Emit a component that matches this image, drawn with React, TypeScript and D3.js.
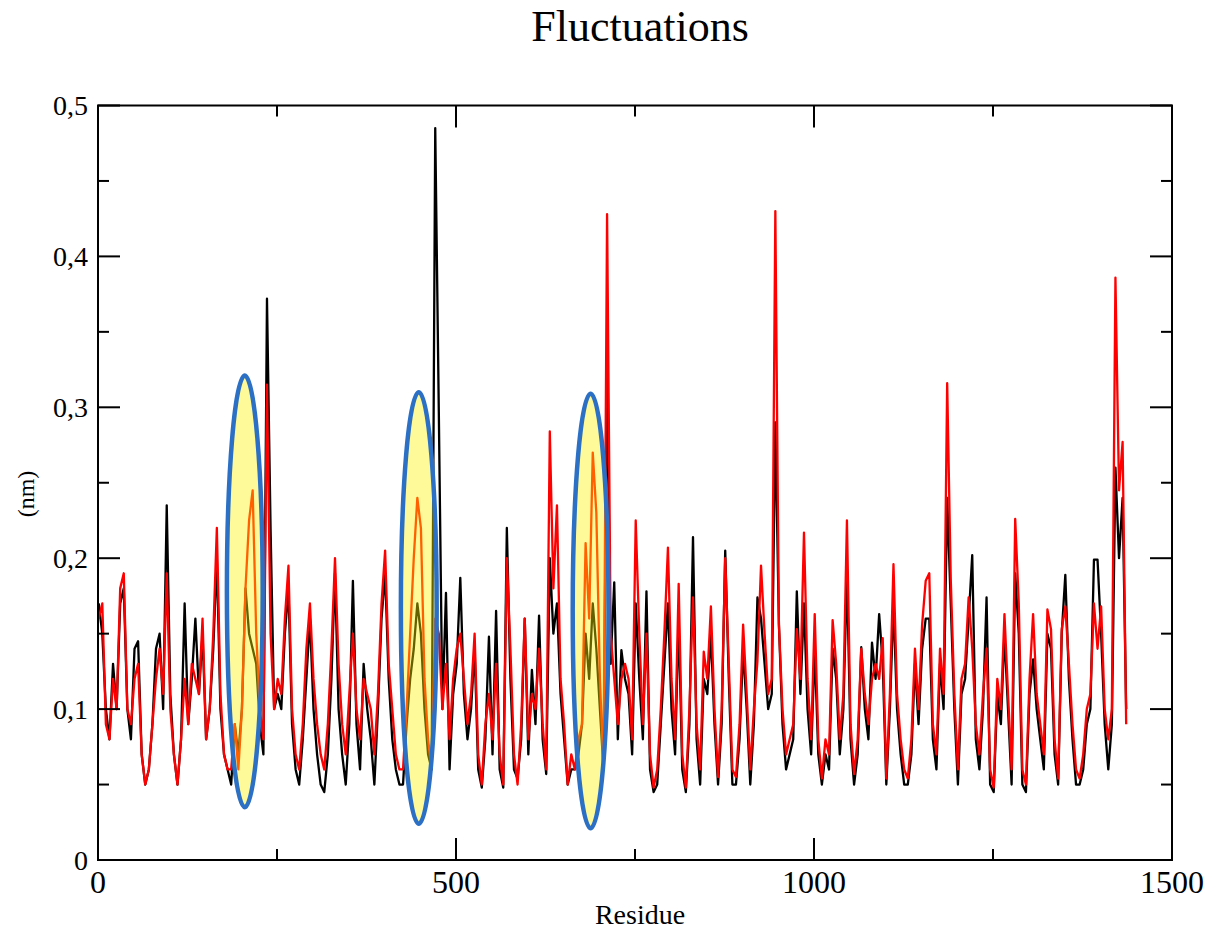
import React from 'react';
import * as d3 from 'd3';

// Residues sampled every 5 residues starting at residue 1
const residueStart = 1;
const residueStep = 5;

const blackRmsf = [
  0.17, 0.15, 0.10, 0.08, 0.13, 0.10, 0.17, 0.18, 0.10, 0.08,
  0.14, 0.145, 0.07, 0.05, 0.06, 0.09, 0.14, 0.15, 0.10, 0.235,
  0.11, 0.07, 0.05, 0.08, 0.17, 0.09, 0.12, 0.16, 0.11, 0.15,
  0.08, 0.10, 0.14, 0.20, 0.10, 0.07, 0.06, 0.05, 0.09, 0.07,
  0.10, 0.18, 0.15, 0.14, 0.13, 0.09, 0.07, 0.372, 0.22, 0.10,
  0.11, 0.10, 0.15, 0.18, 0.09, 0.06, 0.05, 0.08, 0.12, 0.16,
  0.10, 0.07, 0.05, 0.045, 0.07, 0.12, 0.19, 0.10, 0.07, 0.05,
  0.09, 0.185, 0.09, 0.06, 0.13, 0.10, 0.08, 0.05, 0.10, 0.16,
  0.19, 0.12, 0.08, 0.06, 0.05, 0.05, 0.09, 0.12, 0.14, 0.17,
  0.15, 0.10, 0.07, 0.06, 0.485, 0.297, 0.10, 0.177, 0.06, 0.11,
  0.13, 0.187, 0.11, 0.08, 0.10, 0.14, 0.06, 0.048, 0.08, 0.148,
  0.07, 0.165, 0.06, 0.048, 0.22, 0.12, 0.06, 0.054, 0.08, 0.16,
  0.07, 0.126, 0.09, 0.162, 0.08, 0.057, 0.20, 0.15, 0.17, 0.11,
  0.08, 0.05, 0.06, 0.06, 0.07, 0.09, 0.15, 0.12, 0.17, 0.14,
  0.10, 0.06, 0.33, 0.13, 0.184, 0.08, 0.139, 0.12, 0.11, 0.07,
  0.17, 0.12, 0.08, 0.178, 0.06, 0.045, 0.05, 0.09, 0.13, 0.17,
  0.10, 0.07, 0.16, 0.06, 0.045, 0.09, 0.214, 0.08, 0.05, 0.12,
  0.11, 0.15, 0.09, 0.05, 0.09, 0.205, 0.12, 0.05, 0.05, 0.08,
  0.14, 0.10, 0.05, 0.09, 0.174, 0.16, 0.13, 0.10, 0.11, 0.29,
  0.156, 0.09, 0.06, 0.07, 0.08, 0.178, 0.11, 0.17, 0.10, 0.07,
  0.14, 0.07, 0.05, 0.07, 0.06, 0.14, 0.12, 0.07, 0.10, 0.19,
  0.08, 0.05, 0.07, 0.141, 0.10, 0.08, 0.144, 0.12, 0.163, 0.13,
  0.05, 0.10, 0.17, 0.10, 0.07, 0.05, 0.05, 0.07, 0.13, 0.09,
  0.14, 0.16, 0.16, 0.08, 0.06, 0.13, 0.10, 0.24, 0.17, 0.10,
  0.05, 0.11, 0.12, 0.16, 0.202, 0.08, 0.06, 0.10, 0.174, 0.05,
  0.045, 0.11, 0.09, 0.15, 0.10, 0.05, 0.19, 0.15, 0.05, 0.045,
  0.11, 0.133, 0.10, 0.08, 0.06, 0.15, 0.14, 0.07, 0.05, 0.15,
  0.189, 0.12, 0.08, 0.05, 0.05, 0.06, 0.09, 0.10, 0.199, 0.199,
  0.15, 0.09, 0.06, 0.09, 0.26, 0.20, 0.24, 0.10,
];

const redRmsf = [
  0.16, 0.17, 0.09, 0.08, 0.12, 0.10, 0.18, 0.19, 0.10, 0.09,
  0.12, 0.13, 0.07, 0.05, 0.06, 0.09, 0.12, 0.14, 0.11, 0.19,
  0.10, 0.07, 0.05, 0.08, 0.12, 0.09, 0.13, 0.12, 0.11, 0.16,
  0.08, 0.10, 0.15, 0.22, 0.11, 0.07, 0.06, 0.06, 0.09, 0.06,
  0.10, 0.18, 0.225, 0.245, 0.15, 0.10, 0.08, 0.315, 0.15, 0.10,
  0.12, 0.11, 0.16, 0.195, 0.10, 0.07, 0.06, 0.09, 0.14, 0.17,
  0.12, 0.09, 0.07, 0.06, 0.09, 0.14, 0.20, 0.13, 0.09, 0.07,
  0.11, 0.15, 0.10, 0.08, 0.12, 0.11, 0.10, 0.07, 0.11, 0.17,
  0.205, 0.13, 0.10, 0.07, 0.06, 0.06, 0.10, 0.15, 0.20, 0.24,
  0.22, 0.12, 0.08, 0.06, 0.16, 0.15, 0.10, 0.13, 0.08, 0.12,
  0.14, 0.15, 0.12, 0.09, 0.11, 0.15, 0.07, 0.05, 0.09, 0.11,
  0.08, 0.13, 0.07, 0.05, 0.20, 0.14, 0.07, 0.05, 0.09, 0.16,
  0.08, 0.11, 0.10, 0.14, 0.09, 0.06, 0.284, 0.18, 0.235, 0.12,
  0.09, 0.05, 0.07, 0.06, 0.08, 0.09, 0.21, 0.16, 0.27, 0.23,
  0.12, 0.06, 0.428, 0.15, 0.12, 0.09, 0.12, 0.13, 0.12, 0.08,
  0.225, 0.15, 0.09, 0.15, 0.07, 0.048, 0.06, 0.10, 0.15, 0.207,
  0.12, 0.08, 0.183, 0.07, 0.048, 0.10, 0.174, 0.09, 0.06, 0.138,
  0.12, 0.168, 0.10, 0.055, 0.10, 0.20, 0.13, 0.06, 0.055, 0.09,
  0.156, 0.11, 0.06, 0.10, 0.132, 0.195, 0.15, 0.11, 0.12, 0.43,
  0.156, 0.10, 0.07, 0.08, 0.09, 0.153, 0.12, 0.217, 0.12, 0.08,
  0.163, 0.08, 0.054, 0.08, 0.07, 0.159, 0.13, 0.08, 0.11, 0.225,
  0.09, 0.057, 0.08, 0.14, 0.11, 0.09, 0.12, 0.13, 0.12, 0.147,
  0.054, 0.11, 0.196, 0.11, 0.08, 0.06, 0.054, 0.08, 0.14, 0.10,
  0.156, 0.185, 0.19, 0.09, 0.07, 0.14, 0.11, 0.316, 0.186, 0.11,
  0.06, 0.12, 0.13, 0.174, 0.14, 0.09, 0.07, 0.11, 0.14, 0.06,
  0.048, 0.12, 0.10, 0.163, 0.11, 0.06, 0.226, 0.17, 0.06, 0.05,
  0.12, 0.163, 0.11, 0.09, 0.07, 0.166, 0.153, 0.08, 0.054, 0.153,
  0.168, 0.13, 0.09, 0.06, 0.054, 0.07, 0.10, 0.11, 0.17, 0.14,
  0.168, 0.10, 0.08, 0.10, 0.386, 0.245, 0.277, 0.09,
];

const xTicksMajor = [0, 500, 1000, 1500];
const xTickLabels = ['0', '500', '1000', '1500'];
const xTicksMinor = [250, 750, 1250];
const yTicksMajor = [0, 0.1, 0.2, 0.3, 0.4, 0.5];
const yTickLabels = ['0', '0,1', '0,2', '0,3', '0,4', '0,5'];
const yTicksMinor = [0.05, 0.15, 0.25, 0.35, 0.45];

// Highlight ellipses (data units)
const highlightResidue = [205, 448, 688];
const highlightValue = [0.178, 0.167, 0.165];
const highlightHalfResidues = [25, 25, 25];
const highlightHalfValue = [0.143, 0.143, 0.144];

const FONT = "'Liberation Serif', 'Times New Roman', Times, serif";

export default function App() {
  const W = 1208;
  const H = 929;
  const left = 98;
  const right = 1172;
  const top = 105.5;
  const bottom = 860;

  const x = d3.scaleLinear().domain([0, 1500]).range([left, right]);
  const y = d3.scaleLinear().domain([0, 0.5]).range([bottom, top]);

  const line = d3
    .line<number>()
    .x((_, i) => x(residueStart + i * residueStep))
    .y((d) => y(d));

  const major = 22;
  const minor = 11;

  return (
    <svg
      width={W}
      height={H}
      viewBox={`0 0 ${W} ${H}`}
      style={{ position: 'absolute', left: 0, top: 0, background: '#fff' }}
    >
      <rect x={0} y={0} width={W} height={H} fill="#fff" />
      <text x={640} y={41} textAnchor="middle" fontFamily={FONT} fontSize={44} fill="#000">
        Fluctuations
      </text>

      {/* data */}
      <path d={line(blackRmsf) || ''} fill="none" stroke="#000" strokeWidth={2.3} strokeLinejoin="round" />
      <path d={line(redRmsf) || ''} fill="none" stroke="#ff0000" strokeWidth={2.3} strokeLinejoin="round" />

      {/* frame */}
      <rect x={left} y={top} width={right - left} height={bottom - top} fill="none" stroke="#000" strokeWidth={2} />

      {/* x ticks */}
      {xTicksMajor.map((t) => (
        <g key={'xM' + t}>
          <line x1={x(t)} x2={x(t)} y1={bottom} y2={bottom - major} stroke="#000" strokeWidth={2} />
          <line x1={x(t)} x2={x(t)} y1={top} y2={top + major} stroke="#000" strokeWidth={2} />
        </g>
      ))}
      {xTicksMinor.map((t) => (
        <g key={'xm' + t}>
          <line x1={x(t)} x2={x(t)} y1={bottom} y2={bottom - minor} stroke="#000" strokeWidth={2} />
          <line x1={x(t)} x2={x(t)} y1={top} y2={top + minor} stroke="#000" strokeWidth={2} />
        </g>
      ))}
      {xTicksMajor.map((t, i) => (
        <text key={'xl' + t} x={x(t)} y={893} textAnchor="middle" fontFamily={FONT} fontSize={32} fill="#000">
          {xTickLabels[i]}
        </text>
      ))}

      {/* y ticks */}
      {yTicksMajor.map((t) => (
        <g key={'yM' + t}>
          <line x1={left} x2={left + major} y1={y(t)} y2={y(t)} stroke="#000" strokeWidth={2} />
          <line x1={right} x2={right - major} y1={y(t)} y2={y(t)} stroke="#000" strokeWidth={2} />
        </g>
      ))}
      {yTicksMinor.map((t) => (
        <g key={'ym' + t}>
          <line x1={left} x2={left + minor} y1={y(t)} y2={y(t)} stroke="#000" strokeWidth={2} />
          <line x1={right} x2={right - minor} y1={y(t)} y2={y(t)} stroke="#000" strokeWidth={2} />
        </g>
      ))}
      {yTicksMajor.map((t, i) => (
        <text
          key={'yl' + t}
          x={88}
          y={y(t)}
          dy="0.35em"
          textAnchor="end"
          fontFamily={FONT}
          fontSize={28}
          fill="#000"
        >
          {yTickLabels[i]}
        </text>
      ))}

      <text
        transform="translate(26,494) rotate(-90)"
        dy="0.35em"
        textAnchor="middle"
        fontFamily={FONT}
        fontSize={24}
        fill="#000"
      >
        (nm)
      </text>
      <text x={640} y={924} textAnchor="middle" fontFamily={FONT} fontSize={28} fill="#000">
        Residue
      </text>

      {/* highlight ellipses */}
      {highlightResidue.map((r, i) => (
        <ellipse
          key={'hl' + i}
          cx={x(r)}
          cy={y(highlightValue[i])}
          rx={x(highlightHalfResidues[i]) - x(0)}
          ry={y(0) - y(highlightHalfValue[i])}
          fill="#fff200"
          fillOpacity={0.4}
          stroke="#2b70c4"
          strokeWidth={4.5}
        />
      ))}
    </svg>
  );
}
